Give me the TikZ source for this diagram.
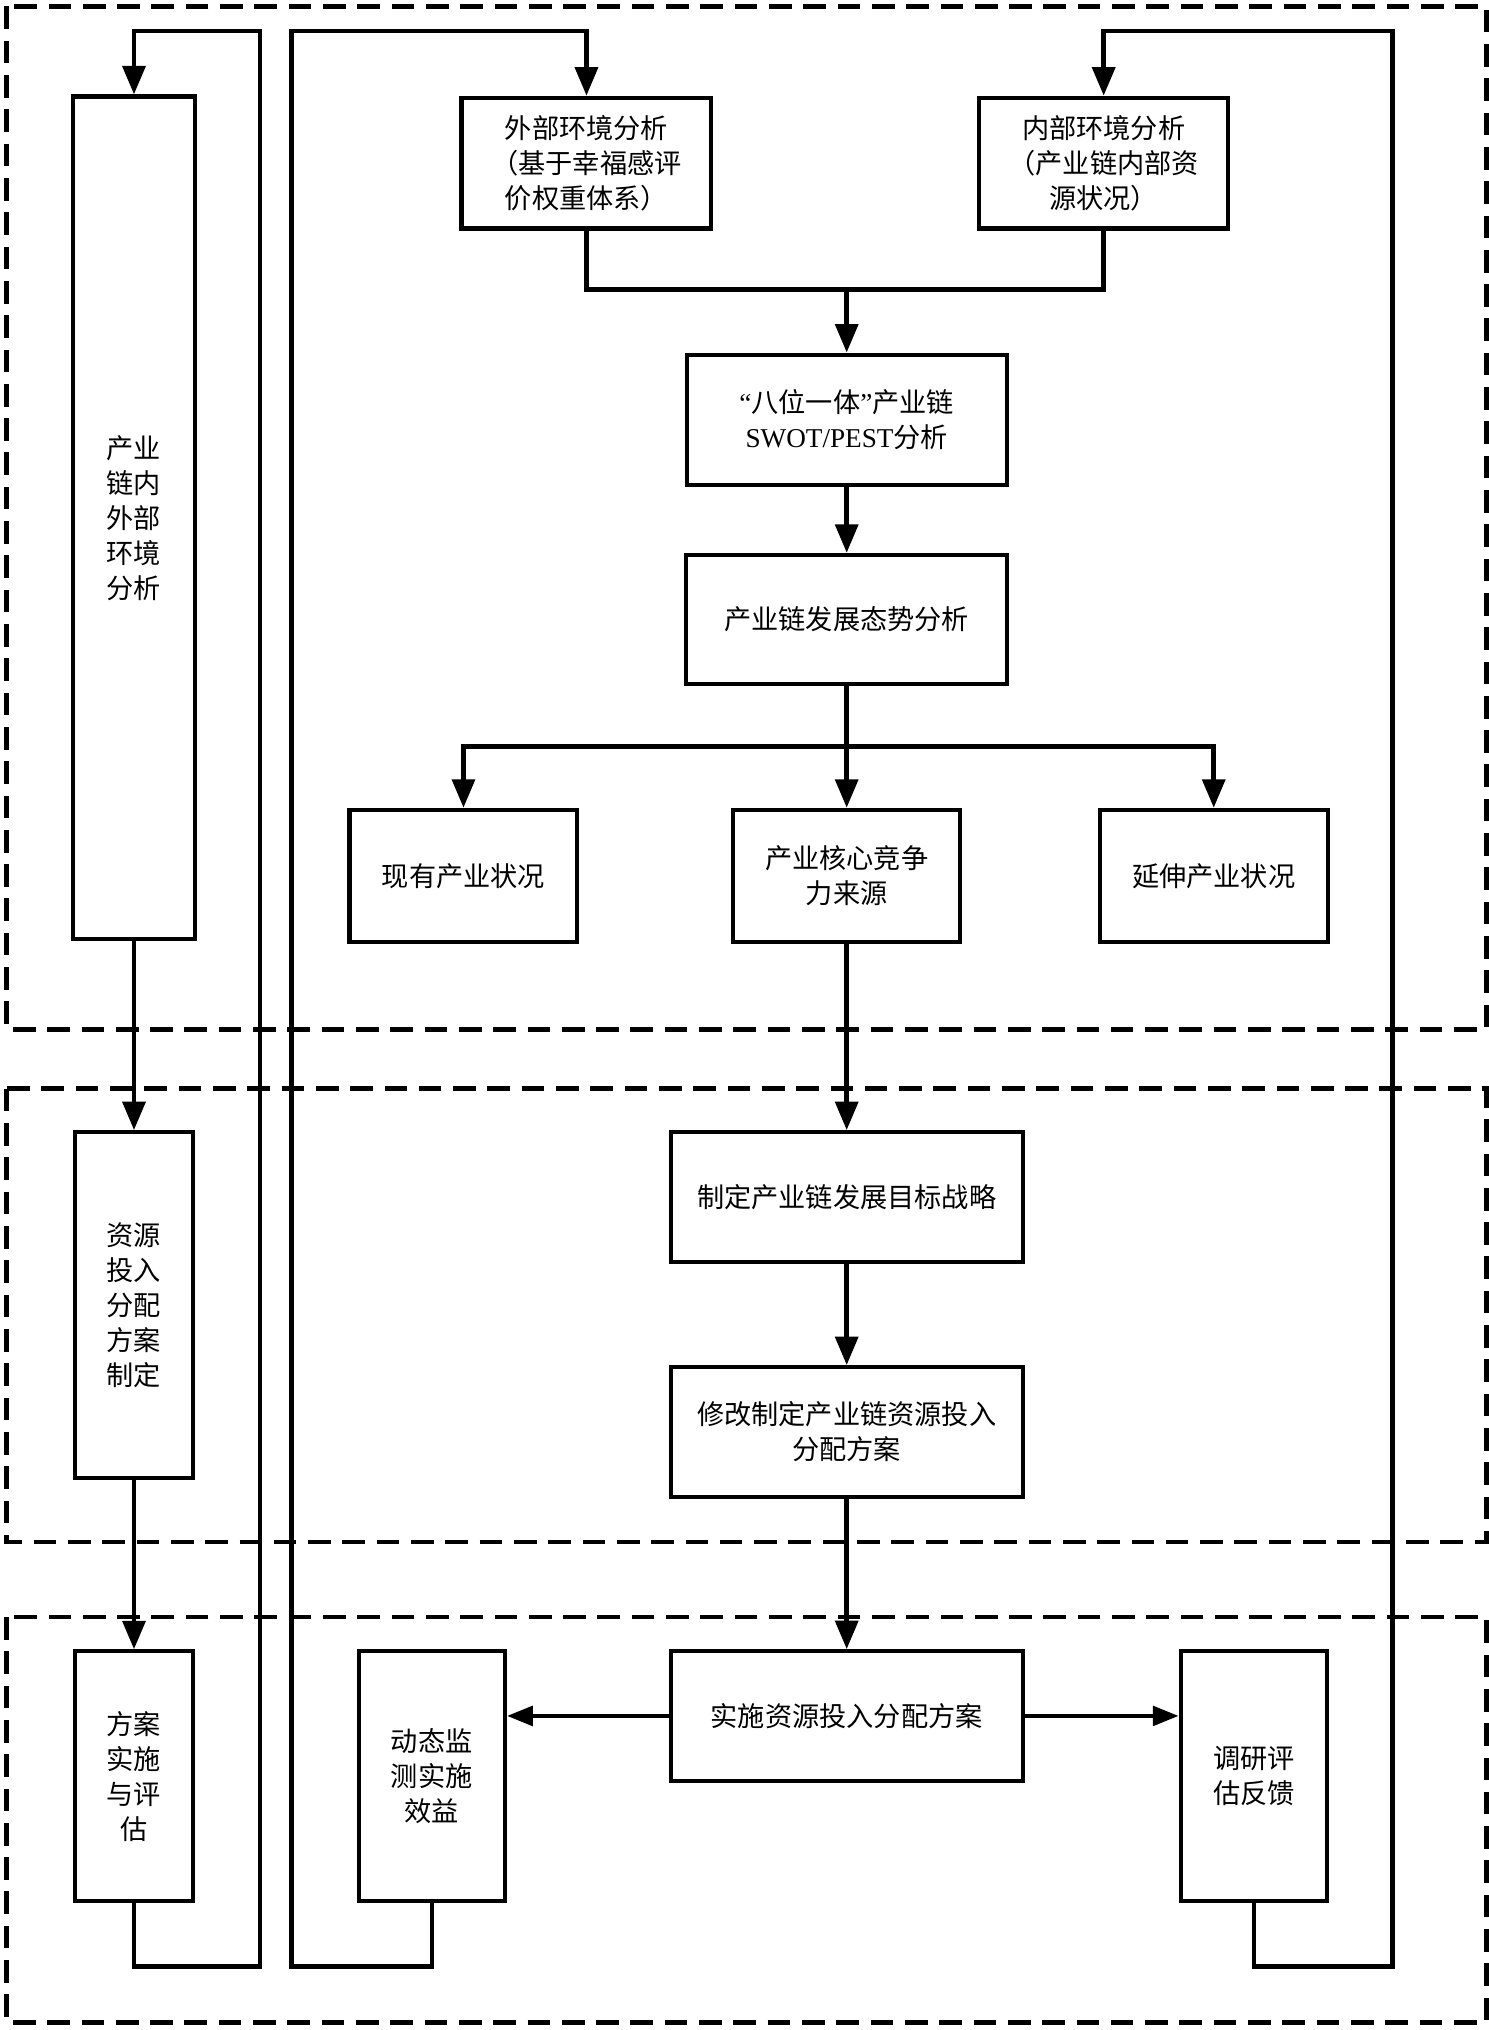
\documentclass[tikz,border=0pt]{standalone}
\usepackage{fontspec}
\setmainfont{Liberation Serif}
\newfontfamily\cjk{Noto Sans CJK SC}
\newfontfamily\lat{Liberation Serif}
\usetikzlibrary{arrows.meta}
\begin{document}
\begin{tikzpicture}[x=1pt,y=-1pt,
  box/.style={draw, line width=3.2pt, align=center, inner sep=0pt,
    font=\cjk\fontsize{21}{27}\selectfont},
  frame/.style={draw, line width=3.6pt, dash pattern=on 17.5pt off 9pt},
  conn/.style={line width=3.5pt},
  arr/.style={line width=3.5pt, -{Triangle[length=22pt,width=17.5pt]}},
  harr/.style={line width=3.5pt, -{Triangle[length=20pt,width=15pt]}}]
\useasboundingbox (0,0) rectangle (1150,1568);
% dashed section frames
\draw[frame] (5,5) rectangle (1148,795);
\draw[frame] (5,841) rectangle (1148,1191);
\draw[frame] (5,1249) rectangle (1148,1562);
% nodes - section 1
\node[box, minimum width=94pt, minimum height=651pt] (tall) at (103.5,400) {产业\\链内\\外部\\环境\\分析};
\node[box, minimum width=193pt, minimum height=101pt] (ext) at (453,126) {外部环境分析\\（基于幸福感评\\价权重体系）};
\node[box, minimum width=192pt, minimum height=101pt] (int) at (852.5,126) {内部环境分析\\（产业链内部资\\源状况）};
\node[box, minimum width=247pt, minimum height=101pt] (swot) at (654,324.4) {\lat“\cjk 八位一体\lat”\cjk 产业链\\\lat SWOT/PEST\cjk 分析};
\node[box, minimum width=248pt, minimum height=100pt] (trend) at (654,478.6) {产业链发展态势分析};
\node[box, minimum width=176pt, minimum height=102pt] (exist) at (358,676.5) {现有产业状况};
\node[box, minimum width=175pt, minimum height=102pt] (core) at (654,676.5) {产业核心竞争\\力来源};
\node[box, minimum width=176pt, minimum height=102pt] (extend) at (937.5,676.5) {延伸产业状况};
% section 2
\node[box, minimum width=91pt, minimum height=267pt] (res) at (103.5,1008) {资源\\投入\\分配\\方案\\制定};
\node[box, minimum width=272pt, minimum height=100pt] (goal) at (654,924.5) {制定产业链发展目标战略};
\node[box, minimum width=272pt, minimum height=100pt] (mod) at (654,1106) {修改制定产业链资源投入\\分配方案};
% section 3
\node[box, minimum width=272pt, minimum height=100pt] (impl) at (654,1325.4) {实施资源投入分配方案};
\node[box, minimum width=91pt, minimum height=193pt] (plan) at (103.5,1372) {方案\\实施\\与评\\估};
\node[box, minimum width=113pt, minimum height=193pt] (monitor) at (333.5,1372) {动态监\\测实施\\效益};
\node[box, minimum width=113pt, minimum height=193pt] (survey) at (968.5,1372) {调研评\\估反馈};
% helper coordinates
\coordinate (merge) at (654,223.5);
\coordinate (branch) at (654,576.5);
\coordinate (c1a) at (201,1519);
\coordinate (c1b) at (201,24);
\coordinate (c2a) at (225,1519);
\coordinate (c2b) at (225,24);
\coordinate (c3a) at (1075.5,1519);
\coordinate (c3b) at (1075.5,24);
% connectors
\draw[conn] (ext.south) |- (merge) -| (int.south);
\draw[arr] (merge) -- (swot.north);
\draw[arr] (swot.south) -- (trend.north);
\draw[conn] (trend.south) -- (branch);
\draw[arr] (branch) -| (exist.north);
\draw[arr] (branch) -- (core.north);
\draw[arr] (branch) -| (extend.north);
\draw[arr] (core.south) -- (goal.north);
\draw[arr] (goal.south) -- (mod.north);
\draw[arr] (mod.south) -- (impl.north);
\draw[harr] (impl.west) -- (monitor.east |- impl.west);
\draw[harr] (impl.east) -- (survey.west |- impl.east);
\draw[arr] (tall.south) -- (res.north);
\draw[arr] (res.south) -- (plan.north);
\draw[arr] (plan.south) |- (c1a) -- (c1b) -| (tall.north);
\draw[arr] (monitor.south) |- (c2a) -- (c2b) -| (ext.north);
\draw[arr] (survey.south) |- (c3a) -- (c3b) -| (int.north);
\end{tikzpicture}
\end{document}
